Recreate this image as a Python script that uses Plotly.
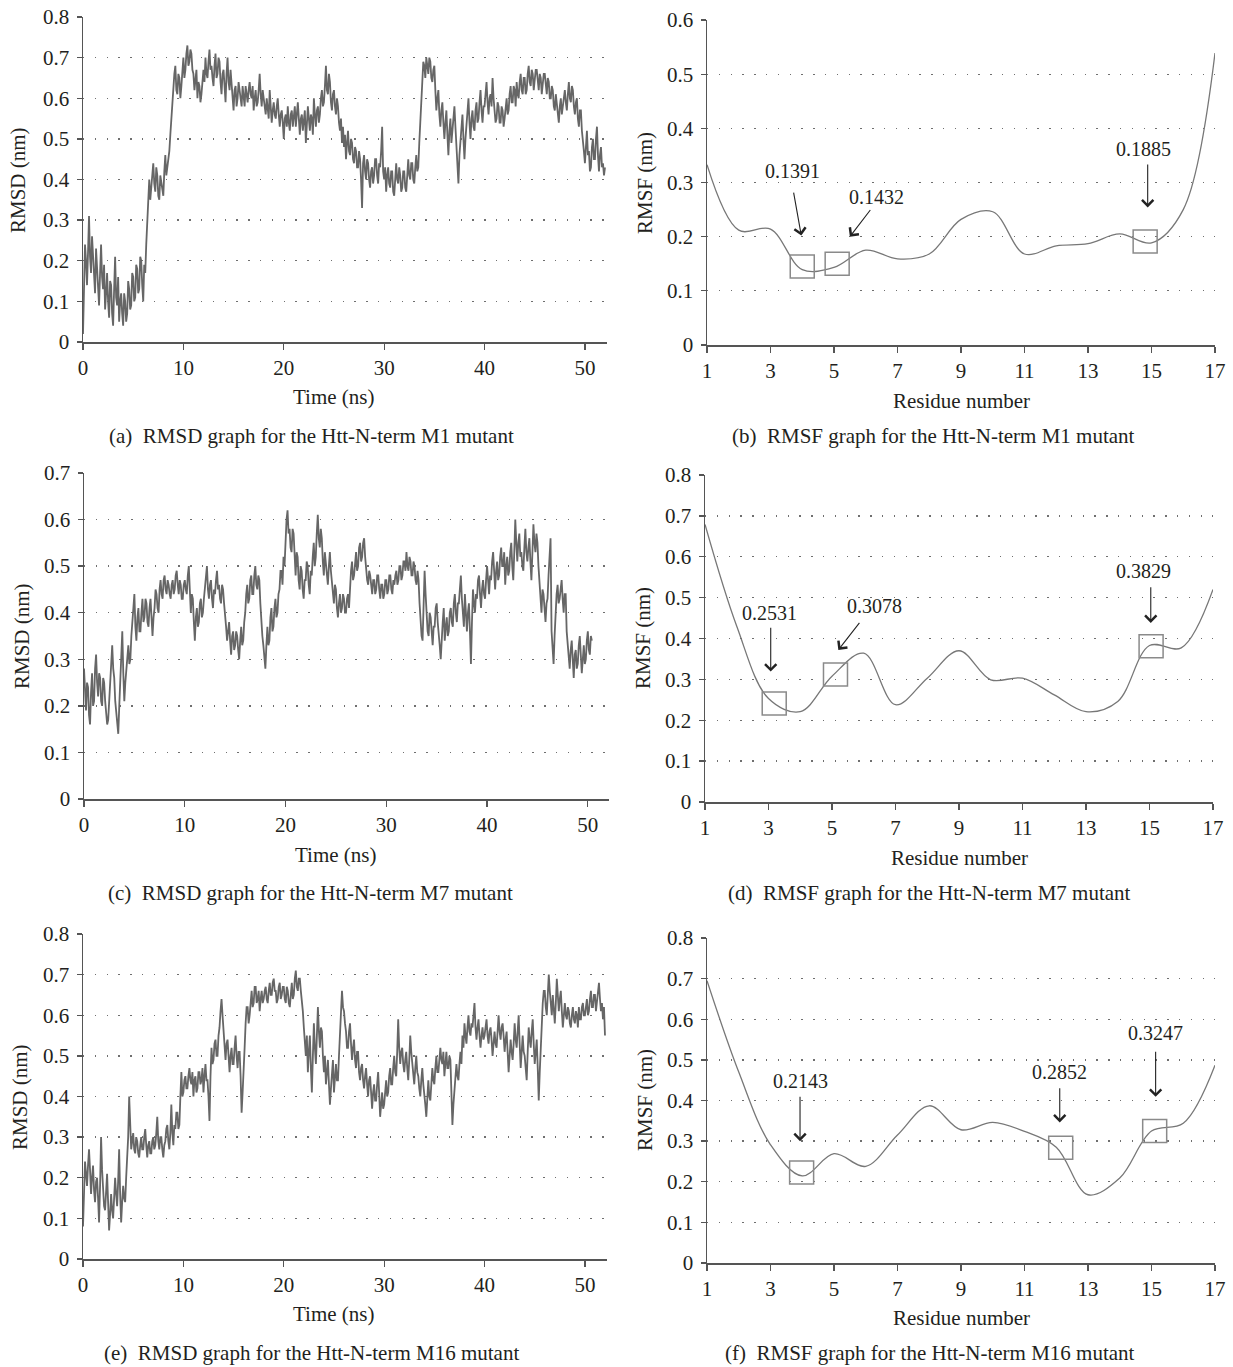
import plotly.graph_objects as go

W, H = 1233, 1367
FONT = "Liberation Serif"

# ---------------- data ----------------
dt = 0.1  # ns between RMSD samples

rmsd_m1 = [
    .02, .18, .24, .20, .14, .22, .31, .21, .17, .26, .21, .15, .12, .23, .19, .13, .09, .17, .24, .16,
    .13, .19, .08, .12, .17, .10, .06, .15, .14, .07, .04, .13, .21, .11, .09, .16, .05, .10, .12, .07,
    .04, .12, .10, .05, .07, .15, .13, .08, .09, .17, .16, .10, .11, .19, .18, .12, .13, .21, .20, .14,
    .10, .19, .17, .24, .31, .36, .40, .35, .38, .42, .44, .39, .37, .43, .41, .36, .35, .41, .39, .37,
    .36, .42, .46, .41, .43, .45, .47, .51, .55, .60, .63, .66, .68, .62, .61, .66, .65, .60, .63, .67,
    .70, .65, .67, .71, .73, .68, .69, .72, .71, .67, .66, .62, .64, .67, .60, .64, .63, .59, .61, .65,
    .67, .64, .70, .66, .65, .69, .72, .67, .68, .65, .63, .68, .71, .65, .66, .70, .69, .64, .61, .66,
    .67, .63, .59, .66, .70, .64, .62, .67, .64, .60, .57, .62, .63, .58, .60, .64, .62, .59, .58, .63,
    .61, .58, .63, .60, .59, .62, .64, .61, .60, .63, .57, .60, .62, .58, .59, .62, .66, .61, .58, .62,
    .60, .57, .56, .60, .58, .55, .62, .58, .54, .57, .59, .56, .55, .58, .60, .56, .53, .56, .57, .54,
    .50, .55, .56, .53, .58, .54, .52, .56, .57, .53, .55, .58, .53, .56, .59, .55, .51, .55, .56, .52,
    .54, .57, .49, .53, .58, .55, .52, .56, .55, .51, .60, .56, .53, .57, .58, .54, .56, .60, .62, .58,
    .59, .63, .68, .62, .61, .66, .64, .59, .57, .61, .62, .58, .56, .60, .58, .54, .52, .55, .49, .53,
    .48, .51, .45, .49, .52, .47, .46, .50, .49, .45, .44, .48, .47, .43, .43, .47, .45, .40, .33, .44,
    .46, .42, .40, .45, .44, .40, .38, .42, .43, .39, .41, .45, .45, .41, .39, .44, .43, .47, .53, .42,
    .40, .43, .37, .41, .43, .39, .38, .42, .42, .37, .36, .40, .44, .40, .39, .43, .41, .37, .38, .42,
    .42, .38, .37, .41, .45, .41, .40, .44, .44, .40, .39, .43, .46, .42, .43, .49, .55, .61, .65, .69,
    .68, .65, .70, .67, .66, .70, .69, .65, .64, .67, .68, .62, .57, .60, .62, .56, .53, .57, .59, .54,
    .50, .54, .57, .51, .46, .52, .55, .49, .52, .56, .58, .53, .48, .44, .39, .46, .50, .53, .56, .50,
    .45, .50, .53, .57, .60, .54, .50, .55, .57, .53, .52, .57, .59, .54, .55, .59, .62, .57, .54, .58,
    .58, .61, .64, .59, .56, .60, .61, .58, .65, .60, .57, .54, .55, .59, .58, .54, .54, .58, .57, .53,
    .55, .58, .60, .56, .57, .61, .63, .59, .59, .63, .62, .58, .64, .61, .60, .64, .66, .62, .61, .65,
    .65, .61, .62, .66, .68, .64, .63, .67, .66, .62, .64, .67, .67, .63, .62, .66, .65, .61, .63, .66,
    .66, .63, .61, .65, .64, .60, .60, .63, .62, .58, .57, .61, .59, .56, .54, .58, .60, .56, .58, .61,
    .62, .59, .57, .61, .64, .60, .59, .63, .62, .58, .56, .59, .60, .55, .53, .57, .57, .52, .50, .47,
    .44, .49, .52, .46, .47, .42, .43, .48, .50, .45, .45, .50, .53, .46, .42, .46, .48, .43, .44, .41,
    .43,
]

rmsd_m7 = [
    .28, .22, .19, .25, .24, .18, .16, .23, .27, .20, .21, .28, .31, .25, .22, .27, .26, .21, .20, .26,
    .25, .21, .19, .16, .17, .21, .23, .29, .33, .28, .26, .21, .19, .16, .14, .20, .25, .31, .36, .27,
    .21, .25, .28, .32, .33, .29, .30, .35, .38, .42, .44, .37, .34, .39, .41, .36, .36, .40, .43, .38,
    .39, .43, .42, .38, .37, .41, .43, .39, .35, .39, .41, .45, .44, .41, .40, .45, .47, .44, .43, .47,
    .48, .45, .44, .47, .46, .44, .43, .46, .47, .44, .45, .48, .49, .46, .44, .47, .46, .43, .43, .46,
    .47, .45, .44, .48, .50, .45, .40, .44, .43, .38, .34, .39, .41, .37, .38, .42, .43, .39, .40, .43,
    .45, .48, .50, .45, .43, .46, .47, .43, .41, .45, .44, .47, .49, .45, .46, .43, .42, .46, .45, .42,
    .40, .37, .34, .37, .38, .34, .31, .35, .36, .32, .33, .36, .35, .32, .30, .34, .37, .33, .34, .38,
    .40, .44, .46, .42, .43, .47, .48, .44, .44, .48, .50, .46, .45, .48, .47, .42, .38, .35, .33, .31,
    .28, .33, .37, .33, .34, .39, .41, .36, .37, .41, .43, .39, .40, .44, .45, .49, .49, .46, .52, .50,
    .56, .60, .62, .57, .58, .54, .53, .58, .57, .51, .48, .53, .52, .47, .45, .50, .49, .45, .43, .47,
    .47, .51, .50, .46, .44, .49, .48, .52, .55, .50, .52, .57, .61, .56, .54, .58, .56, .51, .48, .53,
    .51, .48, .46, .50, .53, .49, .47, .44, .42, .46, .45, .41, .39, .42, .44, .40, .41, .44, .43, .40,
    .40, .43, .44, .41, .46, .49, .51, .47, .48, .52, .53, .49, .50, .54, .55, .51, .52, .55, .56, .52,
    .49, .47, .46, .49, .48, .45, .44, .47, .47, .44, .45, .48, .48, .45, .43, .46, .46, .43, .44, .47,
    .47, .44, .45, .48, .48, .45, .44, .47, .46, .48, .49, .46, .47, .50, .50, .47, .48, .51, .51, .49,
    .53, .50, .49, .52, .51, .48, .48, .51, .50, .47, .46, .49, .47, .42, .38, .35, .34, .42, .49, .44,
    .40, .36, .35, .40, .39, .35, .33, .37, .37, .41, .42, .38, .36, .33, .30, .35, .38, .41, .34, .37,
    .39, .35, .36, .40, .41, .38, .37, .42, .44, .40, .38, .42, .42, .45, .48, .43, .40, .37, .44, .41,
    .36, .40, .42, .36, .29, .38, .45, .42, .40, .44, .43, .47, .48, .44, .41, .45, .47, .44, .43, .47,
    .50, .47, .44, .48, .47, .51, .53, .49, .45, .49, .51, .47, .48, .52, .54, .50, .50, .53, .46, .50,
    .52, .48, .49, .53, .55, .50, .47, .53, .60, .55, .51, .55, .57, .52, .53, .50, .49, .54, .58, .53,
    .51, .54, .56, .51, .47, .53, .59, .55, .53, .57, .55, .50, .46, .43, .40, .45, .44, .41, .38, .42,
    .43, .48, .52, .56, .36, .32, .29, .35, .41, .44, .46, .42, .43, .46, .47, .43, .40, .44, .44, .36,
    .33, .30, .28, .32, .34, .30, .26, .31, .32, .28, .29, .33, .35, .31, .27, .30, .33, .29, .30, .34,
    .36, .32, .31, .35, .34,
]

rmsd_m16 = [
    .08, .19, .24, .21, .18, .23, .27, .22, .16, .20, .23, .17, .14, .19, .20, .15, .09, .18, .30, .22,
    .17, .13, .12, .17, .21, .14, .07, .11, .16, .12, .10, .15, .20, .16, .13, .19, .27, .16, .09, .14,
    .18, .15, .14, .20, .24, .30, .40, .32, .27, .29, .31, .27, .26, .30, .29, .26, .25, .28, .30, .27,
    .27, .30, .32, .28, .25, .28, .29, .26, .26, .29, .30, .27, .28, .31, .35, .29, .27, .30, .30, .27,
    .25, .28, .29, .32, .33, .29, .27, .31, .38, .31, .28, .33, .32, .36, .36, .32, .33, .40, .46, .40,
    .41, .44, .45, .42, .42, .45, .47, .44, .43, .46, .40, .44, .45, .41, .42, .46, .46, .43, .44, .47,
    .41, .45, .48, .44, .44, .40, .34, .45, .52, .48, .49, .53, .54, .50, .50, .55, .57, .61, .64, .60,
    .56, .52, .49, .53, .54, .50, .46, .50, .52, .48, .48, .52, .55, .50, .47, .51, .51, .45, .36, .41,
    .45, .52, .58, .62, .62, .58, .60, .64, .66, .62, .63, .67, .67, .63, .64, .66, .61, .64, .66, .63,
    .64, .66, .67, .64, .63, .66, .68, .65, .65, .68, .69, .66, .66, .63, .64, .67, .68, .64, .65, .67,
    .67, .64, .63, .67, .66, .63, .62, .65, .68, .64, .65, .69, .71, .67, .66, .69, .69, .66, .64, .61,
    .57, .53, .50, .55, .46, .51, .55, .47, .41, .50, .58, .52, .48, .55, .62, .56, .52, .57, .56, .50,
    .46, .50, .43, .46, .49, .43, .38, .42, .45, .49, .41, .45, .48, .44, .44, .50, .57, .61, .66, .62,
    .61, .58, .56, .52, .52, .56, .58, .53, .49, .52, .54, .49, .47, .51, .51, .46, .44, .47, .48, .44,
    .42, .45, .47, .43, .40, .44, .45, .41, .37, .41, .43, .39, .39, .43, .46, .41, .35, .38, .41, .37,
    .38, .41, .44, .40, .41, .45, .47, .43, .43, .47, .50, .46, .45, .51, .59, .52, .48, .51, .52, .48,
    .46, .49, .51, .47, .44, .49, .55, .51, .48, .45, .43, .47, .50, .46, .45, .42, .40, .44, .47, .43,
    .41, .38, .35, .40, .44, .40, .39, .43, .47, .44, .43, .47, .50, .46, .46, .49, .52, .49, .48, .51,
    .45, .48, .51, .47, .47, .50, .49, .41, .33, .38, .42, .46, .48, .45, .44, .48, .51, .48, .55, .52,
    .58, .55, .53, .57, .60, .56, .55, .58, .57, .60, .63, .57, .54, .57, .59, .55, .52, .55, .57, .54,
    .55, .57, .59, .55, .53, .56, .57, .54, .50, .53, .56, .53, .52, .56, .60, .56, .54, .57, .58, .55,
    .51, .54, .56, .51, .46, .50, .54, .51, .49, .53, .58, .54, .52, .56, .60, .53, .47, .51, .55, .51,
    .50, .47, .44, .51, .57, .54, .52, .56, .59, .53, .48, .51, .54, .47, .39, .46, .53, .58, .63, .66,
    .66, .62, .60, .65, .70, .66, .62, .60, .65, .62, .58, .63, .69, .65, .61, .64, .66, .61, .57, .60,
    .63, .60, .59, .62, .61, .58, .57, .60, .62, .59, .58, .61, .60, .57, .62, .59, .59, .62, .63, .60,
    .60, .62, .64, .60, .61, .64, .66, .62, .62, .65, .65, .61, .63, .66, .68, .64, .61, .63, .59, .62,
    .55,
]

residues = list(range(1, 18))
rmsf_m1 = [0.333, 0.212, 0.214, 0.1391, 0.1432, 0.175, 0.159, 0.168, 0.232,
           0.246, 0.168, 0.183, 0.187, 0.205, 0.1885, 0.25, 0.539]
rmsf_m7 = [0.679, 0.43, 0.2531, 0.221, 0.3078, 0.364, 0.238, 0.303, 0.37,
           0.299, 0.303, 0.262, 0.221, 0.246, 0.3829, 0.377, 0.52]
rmsf_m16 = [0.695, 0.47, 0.291, 0.2143, 0.269, 0.238, 0.315, 0.387, 0.328,
            0.346, 0.324, 0.2852, 0.168, 0.209, 0.3247, 0.344, 0.487]

labels_m1 = ["0.1391", "0.1432", "0.1885"]
labels_m7 = ["0.2531", "0.3078", "0.3829"]
labels_m16 = ["0.2143", "0.2852", "0.3247"]

captions = [
    "(a)\u2002RMSD graph for the Htt-N-term M1 mutant",
    "(b)\u2002RMSF graph for the Htt-N-term M1 mutant",
    "(c)\u2002RMSD graph for the Htt-N-term M7 mutant",
    "(d)\u2002RMSF graph for the Htt-N-term M7 mutant",
    "(e)\u2002RMSD graph for the Htt-N-term M16 mutant",
    "(f)\u2002RMSF graph for the Htt-N-term M16 mutant",
]

# ---------------- layout helpers ----------------
def px(x):
    return x / W

def py(y):
    return 1 - y / H

LINE_C = "#666666"
AX_C = "#555555"
TXT_C = "#231f20"

panels = [
    dict(k="", x=(83, 607), y=(17, 342), xr=[0, 52.2], yr=[0, 0.8], dtick=10, t0=0),
    dict(k="2", x=(707, 1215), y=(20, 345), xr=[1, 17], yr=[0, 0.6], dtick=2, t0=1),
    dict(k="3", x=(84, 609), y=(473, 799), xr=[0, 52.1], yr=[0, 0.7], dtick=10, t0=0),
    dict(k="4", x=(705, 1213), y=(475, 802), xr=[1, 17], yr=[0, 0.8], dtick=2, t0=1),
    dict(k="5", x=(83, 607), y=(934, 1259), xr=[0, 52.2], yr=[0, 0.8], dtick=10, t0=0),
    dict(k="6", x=(707, 1215), y=(938, 1263), xr=[1, 17], yr=[0, 0.8], dtick=2, t0=1),
]

fig = go.Figure()
layout = dict(
    template="none",
    width=W, height=H, margin=dict(l=0, r=0, t=0, b=0, autoexpand=False),
    paper_bgcolor="white", plot_bgcolor="white", showlegend=False,
    font=dict(family=FONT, size=21, color=TXT_C),
)

for p in panels:
    k = p["k"]
    layout["xaxis" + k] = dict(
        domain=[px(p["x"][0]), px(p["x"][1])], range=p["xr"], automargin=False,
        anchor="y" + k, showgrid=False, zeroline=False,
        showline=True, linecolor=AX_C, linewidth=1.5,
        ticks="outside", ticklen=6, tickwidth=1.3, tickcolor=AX_C,
        tick0=p["t0"], dtick=p["dtick"],
        tickfont=dict(family=FONT, size=21, color=TXT_C),
    )
    layout["yaxis" + k] = dict(
        domain=[py(p["y"][1]), py(p["y"][0])], range=p["yr"], automargin=False,
        anchor="x" + k, showgrid=True, gridcolor="#6f6f6f", gridwidth=1.3,
        griddash="1.3px,10.5px", zeroline=False,
        showline=True, linecolor=AX_C, linewidth=1.5,
        ticks="outside", ticklen=5, tickwidth=1.3, tickcolor=AX_C,
        dtick=0.1, tickformat="~g", ticklabelstandoff=3,
        tickfont=dict(family=FONT, size=21, color=TXT_C),
    )

# RMSD traces
for vals, k in [(rmsd_m1, ""), (rmsd_m7, "3"), (rmsd_m16, "5")]:
    t = [round(i * dt, 1) for i in range(len(vals))]
    fig.add_trace(go.Scatter(x=t, y=vals, mode="lines", xaxis="x" + k, yaxis="y" + k,
                             line=dict(color=LINE_C, width=1.8), hoverinfo="skip"))

# RMSF traces
for vals, k in [(rmsf_m1, "2"), (rmsf_m7, "4"), (rmsf_m16, "6")]:
    fig.add_trace(go.Scatter(x=residues, y=vals, mode="lines", xaxis="x" + k, yaxis="y" + k,
                             line=dict(color="#777777", width=1.3, shape="spline", smoothing=1.0),
                             hoverinfo="skip"))

annotations = []
shapes = []

x_titles = [
    ("Time (ns)", 334, 397), ("Residue number", 961, 401),
    ("Time (ns)", 336, 855), ("Residue number", 959, 858),
    ("Time (ns)", 334, 1314), ("Residue number", 961, 1318),
]
y_titles = [
    ("RMSD (nm)", 18, 180), ("RMSF (nm)", 645, 183),
    ("RMSD (nm)", 22, 636), ("RMSF (nm)", 643, 638),
    ("RMSD (nm)", 20, 1097), ("RMSF (nm)", 645, 1100),
]
cap_pos = [(311, 436), (933, 436), (310, 893), (929, 893), (311, 1353), (930, 1353)]

for txt, x, y in x_titles:
    annotations.append(dict(text=txt, x=px(x), y=py(y), xref="paper", yref="paper",
                            showarrow=False, xanchor="center", yanchor="middle",
                            font=dict(family=FONT, size=21, color=TXT_C)))
for txt, x, y in y_titles:
    annotations.append(dict(text=txt, x=px(x), y=py(y), xref="paper", yref="paper",
                            showarrow=False, xanchor="center", yanchor="middle", textangle=-90,
                            font=dict(family=FONT, size=21, color=TXT_C)))
for txt, (x, y) in zip(captions, cap_pos):
    annotations.append(dict(text=txt, x=px(x), y=py(y), xref="paper", yref="paper",
                            showarrow=False, xanchor="center", yanchor="middle",
                            font=dict(family=FONT, size=21, color=TXT_C)))

# markers: box centre, label position, arrow tail, arrow head (data coords)
marks = [
    ("2", labels_m1, [
        ((4.0, 0.145), (3.68, 0.321), (3.72, 0.284), (3.97, 0.202)),
        ((5.1, 0.150), (6.35, 0.274), (6.18, 0.252), (5.5, 0.200)),
        ((14.8, 0.191), (14.76, 0.362), (14.88, 0.336), (14.88, 0.254)),
    ]),
    ("4", labels_m7, [
        ((3.18, 0.241), (3.04, 0.462), (3.07, 0.430), (3.07, 0.319)),
        ((5.11, 0.312), (6.33, 0.479), (5.9, 0.442), (5.2, 0.372)),
        ((15.05, 0.381), (14.82, 0.565), (15.04, 0.529), (15.04, 0.438)),
    ]),
    ("6", labels_m16, [
        ((3.98, 0.223), (3.95, 0.449), (3.93, 0.413), (3.93, 0.300)),
        ((12.14, 0.284), (12.11, 0.471), (12.11, 0.434), (12.11, 0.346)),
        ((15.1, 0.325), (15.13, 0.565), (15.13, 0.524), (15.13, 0.409)),
    ]),
]

for k, labs, items in marks:
    xr, yr = "x" + k, "y" + k
    for lab, (box, tpos, tail, head) in zip(labs, items):
        shapes.append(dict(type="rect", xref=xr, yref=yr,
                           xsizemode="pixel", ysizemode="pixel",
                           xanchor=box[0], yanchor=box[1],
                           x0=-12, x1=12, y0=-11.5, y1=11.5,
                           line=dict(color="#8a8a8a", width=1.5), fillcolor="rgba(0,0,0,0)"))
        annotations.append(dict(text=lab, x=tpos[0], y=tpos[1], xref=xr, yref=yr,
                                showarrow=False, xanchor="center", yanchor="middle",
                                font=dict(family=FONT, size=20, color=TXT_C)))
        annotations.append(dict(text="", x=head[0], y=head[1], xref=xr, yref=yr,
                                ax=tail[0], ay=tail[1], axref=xr, ayref=yr,
                                showarrow=True, arrowhead=4, arrowsize=2.0,
                                arrowwidth=1.1, arrowcolor="#222222"))

layout["annotations"] = annotations
layout["shapes"] = shapes
layout["hovermode"] = False
fig.update_layout(**layout)

fig.write_html(
    "out.html",
    config={"displayModeBar": False, "staticPlot": True},
    post_script="document.body.style.margin='0';document.body.style.overflow='hidden';",
)
